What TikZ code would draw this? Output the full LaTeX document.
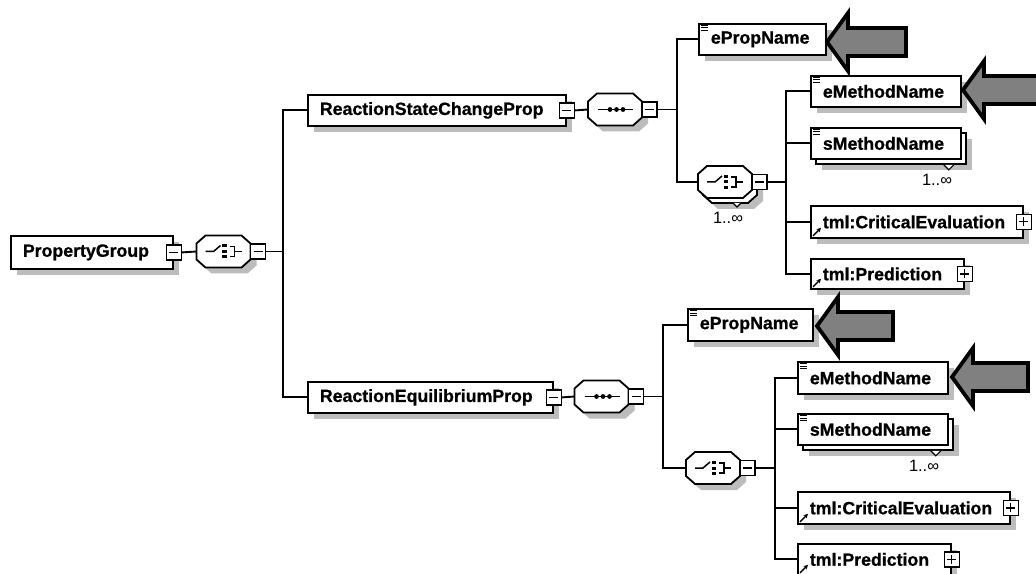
\documentclass[tikz,border=0pt]{standalone}
\usepackage{fontspec}
\setmainfont{Liberation Sans}[BoldFeatures={FakeBold=0.8}]
\usetikzlibrary{shadows,arrows.meta,calc}
\definecolor{shgray}{RGB}{188,188,188}
\definecolor{argray}{RGB}{128,128,128}
\tikzset{
  elemns/.style={draw, line width=1.8bp, fill=white, rectangle, inner xsep=12bp, inner ysep=0bp,
    anchor=north west, font=\fontsize{17.8}{20}\selectfont\bfseries},
  elem/.style={elemns, drop shadow={shadow xshift=6bp, shadow yshift=-6bp, fill=shgray, opacity=1}},
  sqbox/.style={draw, fill=white, minimum size=15bp, inner sep=0pt, line width=1.4bp},
  minus/.style={sqbox, path picture={\draw[line width=1.2bp] ([xshift=3bp]path picture bounding box.west) -- ([xshift=-3bp]path picture bounding box.east);}},
  plus/.style={sqbox, path picture={\draw[line width=1.2bp] ([xshift=3bp]path picture bounding box.west) -- ([xshift=-3bp]path picture bounding box.east);
      \draw[line width=1.2bp] ([yshift=-3bp]path picture bounding box.north) -- ([yshift=3bp]path picture bounding box.south);}},
  comp/.style={minimum width=54bp, minimum height=32bp, inner sep=0pt, draw=none},
  octo/.style={draw, fill=white, line width=1.8bp},
  icon/.style={line width=1.5bp},
  notch/.style={draw, fill=white, line width=1.2bp},
  mult/.style={font=\fontsize{16.5}{18}\selectfont, inner sep=0pt},
  bigarr/.style={draw, fill=argray, line width=3.8bp, line join=miter},
  conn/.style={line width=1.9bp}
}
\newcommand\octpath[4]{({#1+9},{#2}) -- ({#3-9},{#2}) -- ({#3},{#2+8}) -- ({#3},{#4-8}) -- ({#3-9},{#4}) -- ({#1+9},{#4}) -- ({#1},{#4-8}) -- ({#1},{#2+8}) -- cycle}
\newcommand\choicon[2]{%
  \draw[icon] ({#1-18},{#2}) -- ({#1-10},{#2}) -- ({#1-3},{#2-6});
  \fill ({#1-1.5},{#2-7}) rectangle ({#1+3},{#2-4});
  \fill ({#1-1.5},{#2-1.5}) rectangle ({#1+3},{#2+1.5});
  \fill ({#1-1.5},{#2+4}) rectangle ({#1+3},{#2+7});
  \draw[icon] ({#1+6},{#2-5}) -- ({#1+11},{#2-5}) -- ({#1+11},{#2+5}) -- ({#1+6},{#2+5});
  \draw[icon] ({#1+11},{#2}) -- ({#1+18},{#2});}
\newcommand\seqicon[2]{%
  \draw[icon] ({#1-17},{#2}) -- ({#1+18},{#2});
  \foreach \dx in {-5,1.5,8} \fill ({#1+\dx},{#2}) circle[radius=2.4bp];}
\newcommand\compo[4]{%
  \fill[shgray] \octpath{#2-21}{#3-10}{#2+33}{#3+22};
  \draw[octo] \octpath{#2-27}{#3-16}{#2+27}{#3+16};
  \node[comp] (#1) at (#2,#3) {};
  #4{#2}{#3}
  \node[minus] (#1sq) at ({#2+34.5},{#3}) {};}
\newcommand\compostack[4]{%
  \fill[shgray] \octpath{#2-16}{#3-5}{#2+38}{#3+27};
  \draw[octo] \octpath{#2-22}{#3-11}{#2+32}{#3+21};
  \draw[notch] ({#2+8},{#3+21}) -- ({#2+12},{#3+25}) -- ({#2+16},{#3+21});
  \draw[octo] \octpath{#2-27}{#3-16}{#2+27}{#3+16};
  \node[comp] (#1) at (#2,#3) {};
  #4{#2}{#3}
  \node[minus] (#1sq) at ({#2+34.5},{#3}) {};}
\newcommand\eicon[1]{\foreach \k in {2.5,5,7.5} \draw[line width=1bp] ([xshift=3bp,yshift=-\k bp]#1.north west) -- ++(7,0);}
\newcommand\ricon[1]{\draw[line width=1.4bp, -{Stealth[length=4.5bp,width=4.5bp]}] ([xshift=3bp,yshift=3bp]#1.south west) -- ++(8,-8);}
\newcommand\stacknotch[1]{\draw[notch] ([xshift=-23bp]#1.south east) -- ([xshift=-18bp,yshift=-5bp]#1.south east) -- ([xshift=-13bp]#1.south east);}
\newcommand\bigarrow[3]{\draw[bigarr] (#1,#2) -- ({#1+21},{#2-29}) -- ({#1+21},{#2-14}) -- (#3,{#2-14}) -- (#3,{#2+14}) -- ({#1+21},{#2+14}) -- ({#1+21},{#2+29}) -- cycle;}

\begin{document}
\begin{tikzpicture}[x=1bp,y=-1bp]
\fill[white] (0,0) rectangle (1036,574);
\clip (0,0) rectangle (1036,574);
\useasboundingbox (0,0) rectangle (1036,574);

% left part
\node[elem, minimum width=162bp, minimum height=33bp] (pg) at (10,235) {\makebox[138bp][l]{PropertyGroup}};
\node[minus] (pgsq) at (pg.east) {};
\compo{ch0}{223.5}{251.5}{\choicon}

\node[elem, minimum width=258bp, minimum height=31bp] (rscp) at (307,94) {\makebox[234bp][l]{ReactionStateChangeProp}};
\node[minus] (rscpsq) at (rscp.east) {};
\node[elem, minimum width=245bp, minimum height=31bp] (rep) at (307,381) {\makebox[221bp][l]{ReactionEquilibriumProp}};
\node[minus] (repsq) at (rep.east) {};

\compo{sq1}{615}{109.5}{\seqicon}
\compo{sq2}{601.5}{396.5}{\seqicon}
\compostack{ch1}{725}{182}{\choicon}
\compo{ch2}{713}{468}{\choicon}
\node[mult] (m1) at (728,218) {1..∞};

% upper right
\node[elem, minimum width=127bp, minimum height=31bp] (epn1) at (698,23) {\makebox[103bp][l]{ePropName}};
\eicon{epn1}
\node[elem, minimum width=150bp, minimum height=31bp] (emn1) at (810,75) {\makebox[126bp][l]{eMethodName}};
\eicon{emn1}
\node[elem, minimum width=150bp, minimum height=31bp] (smn1b) at (815,132) {\makebox[126bp][l]{}};
\stacknotch{smn1b}
\node[elemns, minimum width=150bp, minimum height=31bp] (smn1) at (810,127) {\makebox[126bp][l]{sMethodName}};
\eicon{smn1}
\node[mult] (m2) at (937,180) {1..∞};
\node[elem, minimum width=212bp, minimum height=32bp] (tce1) at (810,205) {\makebox[188bp][l]{tml:CriticalEvaluation}};
\ricon{tce1}
\node[plus] (tce1sq) at (tce1.east) {};
\node[elem, minimum width=153bp, minimum height=30bp] (tpr1) at (810,258) {\makebox[129bp][l]{tml:Prediction}};
\ricon{tpr1}
\node[plus] (tpr1sq) at (tpr1.east) {};

% lower right
\node[elem, minimum width=125bp, minimum height=32bp] (epn2) at (687,308) {\makebox[101bp][l]{ePropName}};
\eicon{epn2}
\node[elem, minimum width=150bp, minimum height=32bp] (emn2) at (797,361) {\makebox[126bp][l]{eMethodName}};
\eicon{emn2}
\node[elem, minimum width=150bp, minimum height=31bp] (smn2b) at (802,418) {\makebox[126bp][l]{}};
\stacknotch{smn2b}
\node[elemns, minimum width=150bp, minimum height=31bp] (smn2) at (797,413) {\makebox[126bp][l]{sMethodName}};
\eicon{smn2}
\node[mult] (m3) at (924,466) {1..∞};
\node[elem, minimum width=212bp, minimum height=32bp] (tce2) at (797,491) {\makebox[188bp][l]{tml:CriticalEvaluation}};
\ricon{tce2}
\node[plus] (tce2sq) at (tce2.east) {};
\node[elem, minimum width=153bp, minimum height=31bp] (tpr2) at (797,543) {\makebox[129bp][l]{tml:Prediction}};
\ricon{tpr2}
\node[plus] (tpr2sq) at (tpr2.east) {};

% connectors
\coordinate (j0) at (283,251.5);
\coordinate (j1) at (677,109.5);
\coordinate (j2) at (786,182);
\coordinate (j3) at (663,396.5);
\coordinate (j4) at (775,468);
\begin{scope}[conn]
\draw (pgsq.east) -- (ch0.west);
\draw (ch0sq.east) -- (j0);
\draw (rscp.west) -| (j0) |- (rep.west);
\draw (rscpsq.east) -- (sq1.west);
\draw (repsq.east) -- (sq2.west);
\draw (sq1sq.east) -- (j1);
\draw (epn1.west) -| (j1) |- (ch1.west);
\draw (ch1sq.east) -- (j2);
\draw (emn1.west) -| (j2) |- (tpr1.west);
\draw (smn1.west) -- (smn1.west -| j2);
\draw (tce1.west) -- (tce1.west -| j2);
\draw (sq2sq.east) -- (j3);
\draw (epn2.west) -| (j3) |- (ch2.west);
\draw (ch2sq.east) -- (j4);
\draw (emn2.west) -| (j4) |- (tpr2.west);
\draw (smn2.west) -- (smn2.west -| j4);
\draw (tce2.west) -- (tce2.west -| j4);
\end{scope}

% big pointer arrows
\bigarrow{827}{42}{906}
\bigarrow{963}{90}{1060}
\bigarrow{817}{326}{893}
\bigarrow{952}{377}{1028}
\end{tikzpicture}
\end{document}
